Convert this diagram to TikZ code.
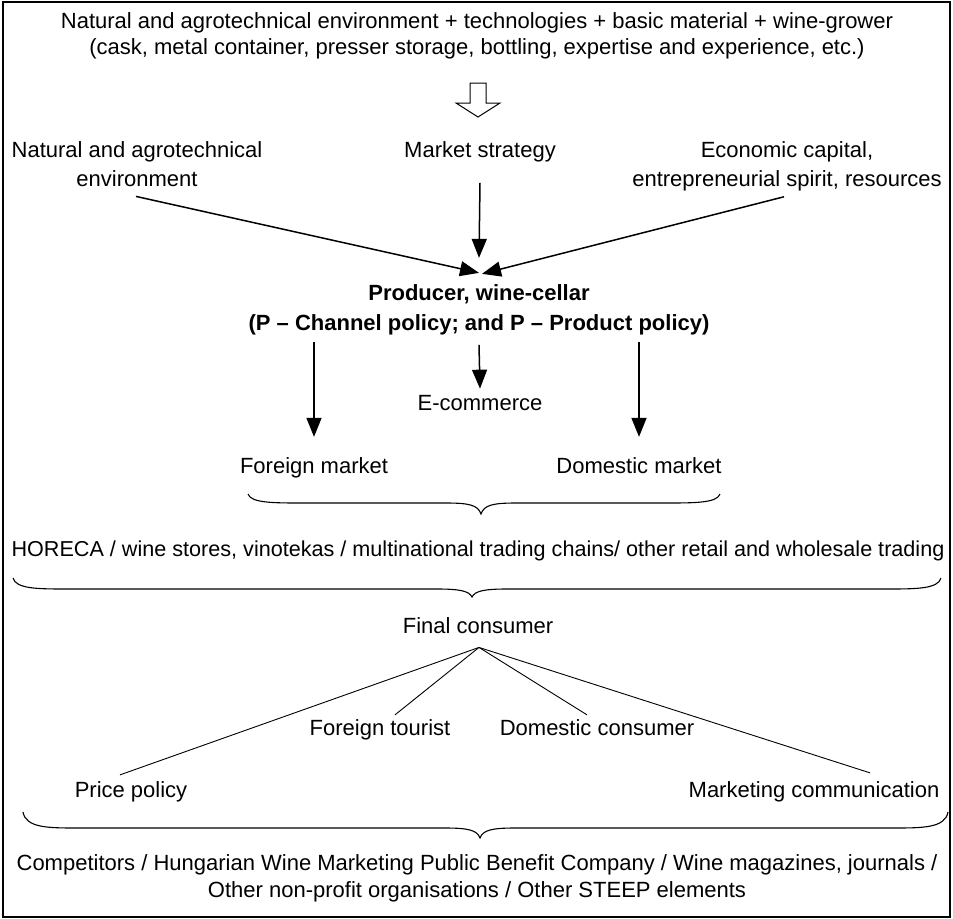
\documentclass[tikz,border=0pt]{standalone}
\usepackage{fontspec}
\setmainfont{Liberation Sans}
\usetikzlibrary{arrows.meta,calc}

% horizontal curly brace: x-left, x-right, y of the ends, y of the flat part, tip x, tip y
\newcommand{\hbrace}[6]{%
  \draw[bracestyle] (#1,#3) .. controls (#1+3,#4) and (#1+25,#4) .. (#1+55,#4)
    -- (#5-35,#4) .. controls (#5-12,#4) and (#5-3,#4+2) .. (#5,#6)
    .. controls (#5+3,#4+2) and (#5+12,#4) .. (#5+35,#4)
    -- (#2-55,#4) .. controls (#2-25,#4) and (#2-3,#4) .. (#2,#3);}

\begin{document}
\begin{tikzpicture}[x=1bp,y=-1bp,
  txt/.style={inner sep=2bp, align=center, anchor=base,
              font=\fontsize{22bp}{26bp}\selectfont},
  arr/.style={line width=1.5bp, -{Triangle[length=19bp,width=15bp]}},
  thinline/.style={line width=0.9bp},
  bracestyle/.style={line width=1.1bp},
]
\useasboundingbox (0,0) rectangle (953,919);
\draw[line width=1.3bp] (3,2) rectangle (950,917);

% text blocks (multi-line nodes are placed by the baseline of their last line)
\node[txt] (src) at (477,54) {Natural and agrotechnical environment + technologies + basic material + wine-grower\\(cask, metal container, presser storage, bottling, expertise and experience, etc.)};
\node[txt, font=\fontsize{22bp}{29bp}\selectfont] (natl) at (137,186) {Natural and agrotechnical\\environment};
\node[txt] (mkt) at (480,157) {Market strategy};
\node[txt, font=\fontsize{22bp}{29bp}\selectfont] (econ) at (787,186) {Economic capital,\\entrepreneurial spirit, resources};
\node[txt, font=\fontsize{22bp}{30bp}\selectfont\bfseries] (prod) at (479,330) {Producer, wine-cellar\\(P – Channel policy; and P – Product policy)};
\node[txt] (ecom) at (480,410) {E-commerce};
\node[txt] (fm) at (314,473) {Foreign market};
\node[txt] (dm) at (639,473) {Domestic market};
\node[txt, font=\fontsize{21.6bp}{26bp}\selectfont] (hor) at (478,556) {HORECA / wine stores, vinotekas / multinational trading chains/ other retail and wholesale trading};
\node[txt] (fc) at (478,633) {Final consumer};
\node[txt] (ft) at (380,735) {Foreign tourist};
\node[txt] (dc) at (597,735) {Domestic consumer};
\node[txt] (pp) at (131,797) {Price policy};
\node[txt] (mc) at (814,797) {Marketing communication};
\node[txt, font=\fontsize{22bp}{27bp}\selectfont] (env) at (477,897) {Competitors / Hungarian Wine Marketing Public Benefit Company / Wine magazines, journals /\\Other non-profit organisations / Other STEEP elements};

% hollow block arrow under the first text
\draw[line width=1bp, fill=white] (470,83) -- (486,83) -- (486,103) -- (500,103)
  -- (478,117) -- (456,103) -- (470,103) -- cycle;

% inputs of the producer
\draw[arr] ($(natl.south)+(-1,8)$) -- ($(prod.north)+(0,-9)$);
\draw[arr] ($(mkt.south)+(0,19)$) -- ($(prod.north)+(0,-24)$);
\draw[arr] ($(econ.south)+(-3,4)$) -- ($(prod.north)+(3,-8)$);

% outputs of the producer
\draw[arr] ($(prod.south -| fm.north)+(0,5)$) -- ($(fm.north)+(0,-18)$);
\draw[arr] ($(prod.south -| dm.north)+(0,5)$) -- ($(dm.north)+(0,-18)$);
\draw[arr] ($(prod.south)+(0,8)$) -- ($(ecom.north)+(0,-4)$);

% braces
\hbrace{248}{720}{494}{503}{481}{514}
\hbrace{13}{941}{578}{589}{472}{597}
\hbrace{23}{948}{812}{828}{480}{838}

% final consumer fan
\coordinate (apex) at ($(fc.south)+(1,12)$);
\draw[thinline] (apex) -- ($(pp.north)+(-11,-4)$);
\draw[thinline] (apex) -- ($(ft.north)+(15,-2)$);
\draw[thinline] (apex) -- ($(dc.north)+(-10,-2)$);
\draw[thinline] (apex) -- ($(mc.north)+(56,-6)$);
\end{tikzpicture}
\end{document}
